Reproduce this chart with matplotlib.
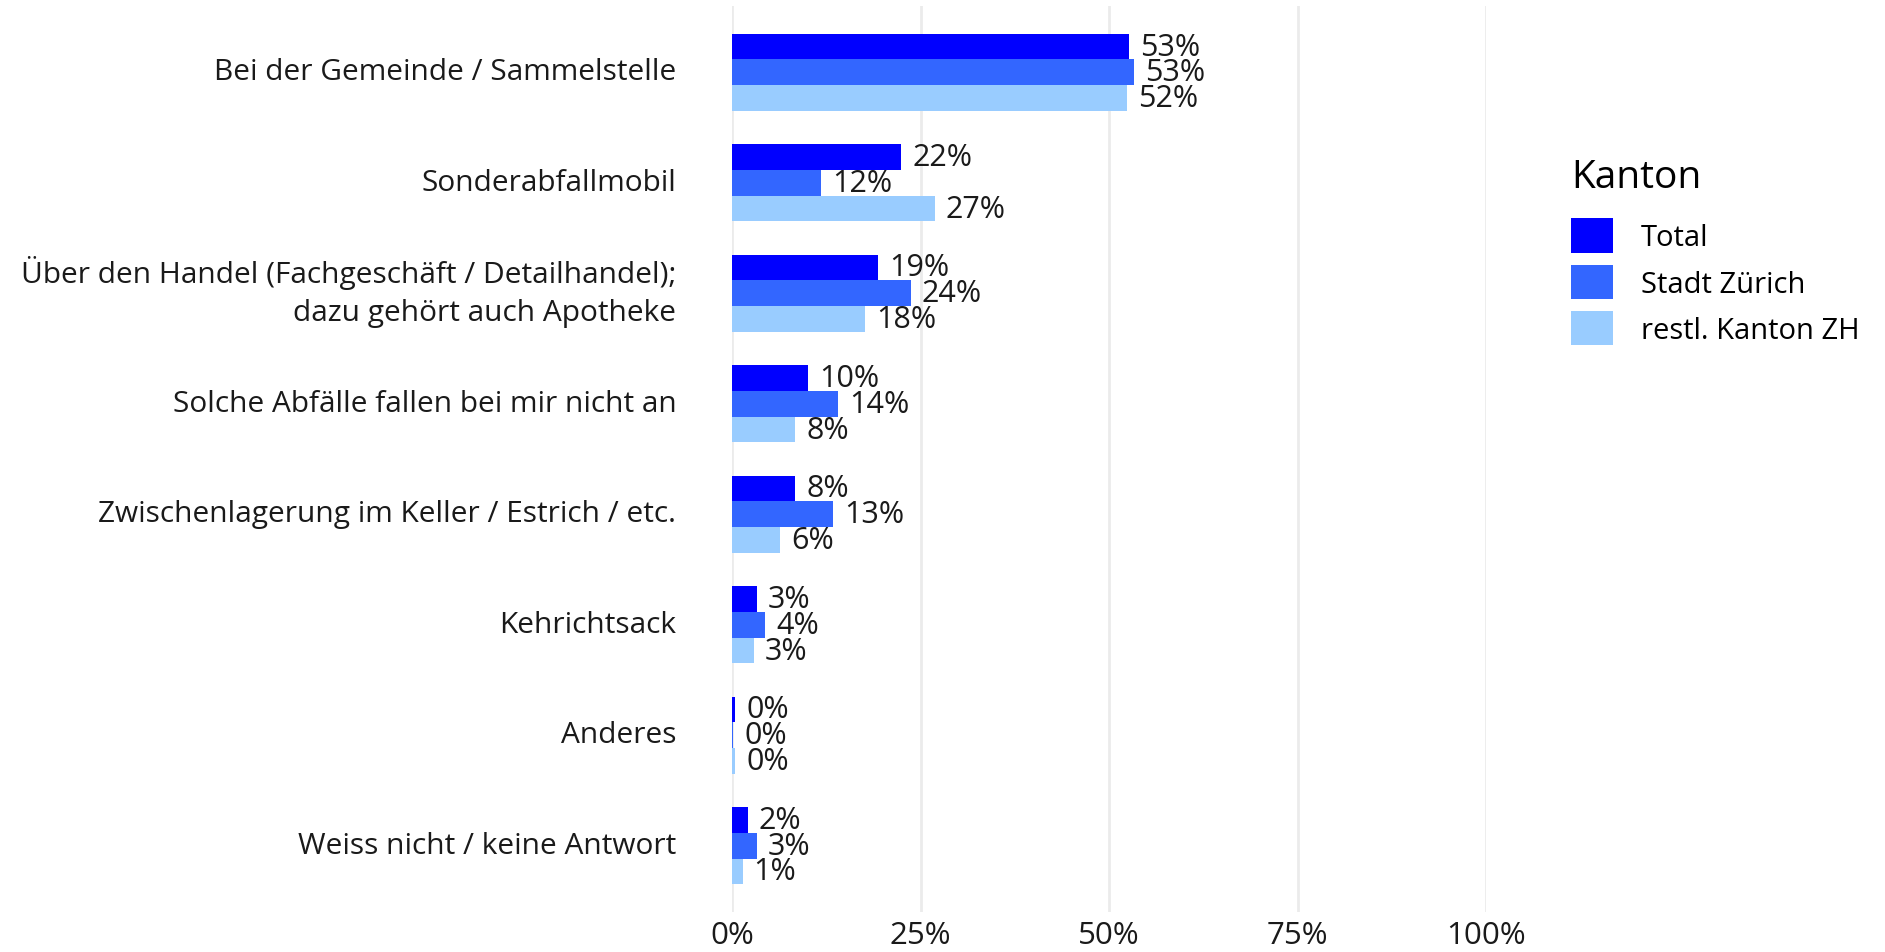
import matplotlib
matplotlib.use("Agg")
import matplotlib.pyplot as plt
import matplotlib.transforms as mtransforms
import numpy as np

plt.rcParams['font.family'] = ['Open Sans', 'DejaVu Sans']

# Daten
categories = [
    "Bei der Gemeinde / Sammelstelle",
    "Sonderabfallmobil",
    "Über den Handel (Fachgeschäft / Detailhandel);\ndazu gehört auch Apotheke",
    "Solche Abfälle fallen bei mir nicht an",
    "Zwischenlagerung im Keller / Estrich / etc.",
    "Kehrichtsack",
    "Anderes",
    "Weiss nicht / keine Antwort",
]
series_names = ["Total", "Stadt Zürich", "restl. Kanton ZH"]
total = [52.7, 22.4, 19.4, 10.1, 8.4, 3.3, 0.4, 2.1]
stadt = [53.3, 11.8, 23.7, 14.1, 13.4, 4.4, 0.15, 3.3]
restl = [52.4, 26.9, 17.6, 8.4, 6.4, 2.9, 0.45, 1.4]
colors = ["#0000FF", "#3366FF", "#99CCFF"]
xticks = [0, 25, 50, 75, 100]

W, H = 1885, 953
fig = plt.figure(figsize=(W / 100, H / 100), dpi=100)
ax = fig.add_axes([732 / W, 1 - 913 / H, (1486 - 732) / W, (913 - 7) / H])

y = np.arange(1, len(categories) + 1)
bh = 0.7 / 3
for i, (vals, name, col) in enumerate(zip([total, stadt, restl], series_names, colors)):
    pos = y - 0.35 + bh * (i + 0.5)
    ax.barh(pos, vals, height=bh, color=col, label=name, zorder=2)
    for p, v in zip(pos, vals):
        ax.annotate(f"{round(v):.0f}%", (v, p), xytext=(8, 0), textcoords="offset points",
                    ha="left", va="center", fontsize=22, color="#1a1a1a", zorder=3)

ax.set_ylim(8.6, 0.4)
ax.set_xlim(0, 100)
ax.set_yticks(y)
ax.set_yticklabels(categories, fontsize=21.5, color="#1a1a1a", linespacing=1.4)
ax.set_xticks(xticks)
ax.set_xticklabels([f"{t}%" for t in xticks], fontsize=22.5, color="#1a1a1a")
ax.tick_params(length=0)
ax.tick_params(axis="y", pad=40)
ax.tick_params(axis="x", pad=6)
ax.grid(axis="x", color="#EBEBEB", linewidth=2, zorder=0)
for s in ax.spines.values():
    s.set_visible(False)

# Beschriftungen leicht nach oben schieben
for lab in ax.get_yticklabels():
    dy = 10 if "\n" in lab.get_text() else 4
    lab.set_transform(lab.get_transform() + mtransforms.ScaledTranslation(0, dy / 100, fig.dpi_scale_trans))

leg = ax.legend(title="Kanton", loc="upper left", bbox_to_anchor=(1571 / W, 1 - 159 / H),
                bbox_transform=fig.transFigure, frameon=False, fontsize=21,
                title_fontsize=28, handlelength=1.44, handleheight=1.44,
                labelspacing=0.41, handletextpad=0.95, borderaxespad=0, borderpad=0)
leg._legend_box.align = "left"
leg._legend_box.sep = 16

fig.savefig("out.png", dpi=100)
